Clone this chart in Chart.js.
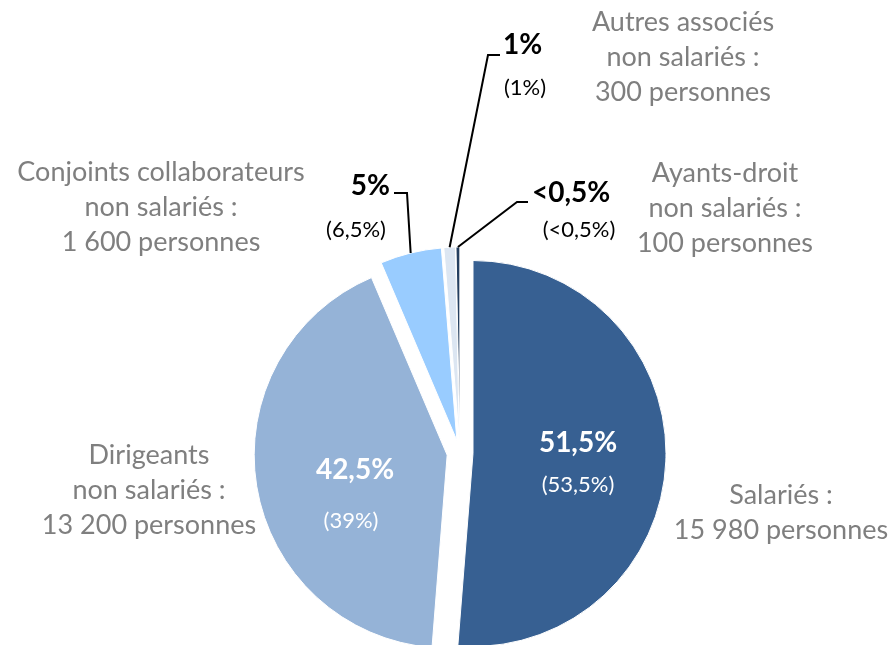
<!DOCTYPE html>
<html>
<head>
<meta charset="utf-8">
<script src="https://cdn.jsdelivr.net/npm/chart.js@4/dist/chart.umd.min.js"></script>
<style>
  body { margin: 0; background: #fff; }
  #wrap { width: 889px; height: 645px; position: relative; }
</style>
</head>
<body>
<div id="wrap"><canvas id="graph"></canvas></div>
<script>
// data
const categories = ['Salariés', 'Dirigeants non salariés', 'Conjoints collaborateurs non salariés', 'Autres associés non salariés', 'Ayants-droit non salariés'];
const personnes = [15980, 13200, 1600, 300, 100];
const parts = ['51,5%', '42,5%', '5%', '1%', '<0,5%'];
const partsAvant = ['(53,5%)', '(39%)', '(6,5%)', '(1%)', '(<0,5%)'];
const libelles = [
    ['Salariés :', '15 980 personnes'],
    ['Dirigeants', 'non salariés :', '13 200 personnes'],
    ['Conjoints collaborateurs', 'non salariés :', '1 600 personnes'],
    ['Autres associés', 'non salariés :', '300 personnes'],
    ['Ayants-droit', 'non salariés :', '100 personnes']
];
const colors = ['#376092', '#95B3D7', '#99CCFF', '#DCE6F2', '#243F60'];

const FONT = 'Lato, "Open Sans", sans-serif';
const GREY = '#7F7F7F';
const EXPLODE = 13; // how far each slice is pulled out

// where the texts go, relative to the pie centre
// inside: label sits in the slice; outside: label + leader line
const layout = [
    { name: [321, 42], pct: [118, -10], prev: [118, 32], inside: true },
    { name: [-311, 2], pct: [-105, 17], prev: [-109, 68], inside: true },
    { name: [-299, -281], pct: [-70, -267], prev: [-104, -223], elbow: [-53, -260], end: [-66, -260], align: 'right' },
    { name: [223, -431], pct: [43, -408], prev: [65, -365], elbow: [28, -398], end: [40, -398], align: 'left' },
    { name: [265, -280], pct: [72, -260], prev: [119, -223], elbow: [57, -251], end: [68, -251], align: 'left' }
];

// pull every slice out along its middle angle (Chart.js offset also grows the radius)
const explodePlugin = {
    id: 'explode',
    beforeDatasetDraw(chart) {
        chart.getDatasetMeta(0).data.forEach(arc => {
            const mid = (arc.startAngle + arc.endAngle) / 2;
            arc._ox = arc.x; arc._oy = arc.y;
            arc.x += Math.cos(mid) * EXPLODE;
            arc.y += Math.sin(mid) * EXPLODE;
        });
    },
    afterDatasetDraw(chart) {
        chart.getDatasetMeta(0).data.forEach(arc => {
            arc.x = arc._ox; arc.y = arc._oy;
        });
    }
};

const labelPlugin = {
    id: 'labels',
    afterDraw(chart) {
        const ctx = chart.ctx;
        const meta = chart.getDatasetMeta(0);
        const cx = meta.data[0].x, cy = meta.data[0].y;
        ctx.save();
        ctx.textBaseline = 'middle';
        meta.data.forEach((arc, i) => {
            const L = layout[i];
            // category name
            ctx.fillStyle = GREY;
            ctx.font = '27px ' + FONT;
            ctx.textAlign = 'center';
            libelles[i].forEach((t, k) => {
                ctx.fillText(t, cx + L.name[0], cy + L.name[1] + k * 35);
            });
            const col = L.inside ? '#fff' : '#000';
            // leader line
            if (!L.inside) {
                const mid = (arc.startAngle + arc.endAngle) / 2;
                const r = arc.outerRadius + EXPLODE;
                ctx.strokeStyle = '#000';
                ctx.lineWidth = 2;
                ctx.beginPath();
                ctx.moveTo(cx + Math.cos(mid) * r, cy + Math.sin(mid) * r);
                ctx.lineTo(cx + L.elbow[0], cy + L.elbow[1]);
                ctx.lineTo(cx + L.end[0], cy + L.end[1]);
                ctx.stroke();
            }
            ctx.fillStyle = col;
            ctx.font = 'bold 28px ' + FONT;
            ctx.textAlign = L.inside ? 'center' : L.align;
            ctx.fillText(parts[i], cx + L.pct[0], cy + L.pct[1]);
            ctx.font = '22px ' + FONT;
            ctx.textAlign = 'center';
            ctx.fillText(partsAvant[i], cx + L.prev[0], cy + L.prev[1]);
        });
        ctx.restore();
    }
};

new Chart(document.getElementById('graph'), {
    type: 'pie',
    data: {
        labels: categories,
        datasets: [{
            data: personnes,
            backgroundColor: colors,
            borderColor: '#fff',
            borderWidth: 1,
            radius: 193
        }]
    },
    options: {
        responsive: true,
        maintainAspectRatio: false,
        animation: false,
        layout: { padding: { left: 31, top: 261, right: 0, bottom: 0 } },
        plugins: { legend: { display: false }, tooltip: { enabled: false } }
    },
    plugins: [explodePlugin, labelPlugin]
});
</script>
</body>
</html>
